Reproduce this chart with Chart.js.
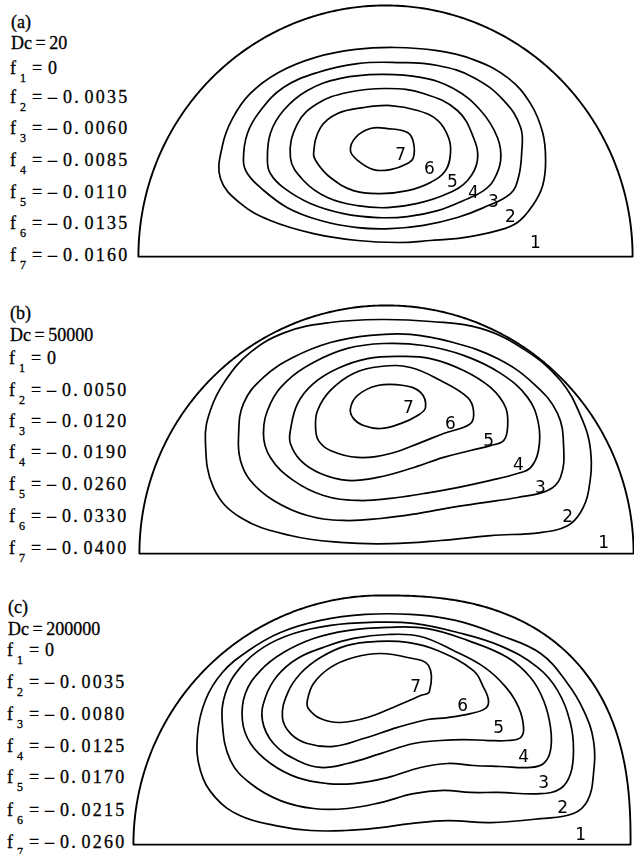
<!DOCTYPE html>
<html><head><meta charset="utf-8">
<script src="https://cdn.jsdelivr.net/npm/chart.js@4.4.1/dist/chart.umd.min.js"></script>
<style>
html,body{margin:0;padding:0;background:#fff;width:634px;height:854px;overflow:hidden;position:relative;}
canvas{position:absolute;}
.t{position:absolute;font-family:"Liberation Serif","Times New Roman",serif;font-size:18px;color:#000;white-space:pre;line-height:18px;-webkit-text-stroke:0.3px #000;}
.s{font-size:12px;line-height:12px;}
.v{letter-spacing:2.2px;word-spacing:-3px;}
.d{word-spacing:-1px;}
</style></head><body>
<script>
// ---------- text data ----------
const panelTags = ['(a)', '(b)', '(c)'];
const deanNumbers = ['20', '50000', '200000'];
const levelsA = ['0', '\u2013 0. 0035', '\u2013 0. 0060', '\u2013 0. 0085', '\u2013 0. 0110', '\u2013 0. 0135', '\u2013 0. 0160'];
const levelsB = ['0', '\u2013 0. 0050', '\u2013 0. 0120', '\u2013 0. 0190', '\u2013 0. 0260', '\u2013 0. 0330', '\u2013 0. 0400'];
const levelsC = ['0', '\u2013 0. 0035', '\u2013 0. 0080', '\u2013 0. 0125', '\u2013 0. 0170', '\u2013 0. 0215', '\u2013 0. 0260'];
const contourNames = ['1', '2', '3', '4', '5', '6', '7'];

// ---------- contour data (x = horizontal / radius, y = height / radius) ----------
// Panel (a) Dc = 20
const a2 = [[-0.668,0.316],[-0.660,0.449],[-0.619,0.559],[-0.547,0.660],[-0.433,0.745],[-0.283,0.806],[-0.121,0.838],[0.040,0.846],[0.202,0.834],[0.364,0.794],[0.498,0.721],[0.587,0.619],[0.636,0.502],[0.648,0.389],[0.636,0.287],[0.595,0.206],[0.534,0.138],[0.453,0.105],[0.316,0.077],[0.182,0.065],[0.049,0.057],[-0.113,0.065],[-0.291,0.093],[-0.466,0.146],[-0.587,0.215]];
const a3 = [[-0.575,0.389],[-0.559,0.498],[-0.506,0.591],[-0.413,0.684],[-0.275,0.745],[-0.113,0.781],[0.049,0.785],[0.211,0.773],[0.356,0.725],[0.478,0.632],[0.547,0.522],[0.551,0.417],[0.538,0.320],[0.506,0.255],[0.397,0.198],[0.291,0.158],[0.154,0.126],[0.020,0.113],[-0.113,0.117],[-0.263,0.146],[-0.397,0.198],[-0.506,0.279],[-0.559,0.336]];
const a4 = [[-0.478,0.389],[-0.466,0.498],[-0.413,0.591],[-0.316,0.672],[-0.182,0.721],[-0.020,0.737],[0.142,0.725],[0.275,0.680],[0.385,0.591],[0.453,0.482],[0.466,0.389],[0.437,0.308],[0.397,0.267],[0.316,0.227],[0.211,0.186],[0.089,0.162],[-0.032,0.158],[-0.170,0.174],[-0.304,0.215],[-0.413,0.279],[-0.466,0.336]];
const a5 = [[-0.385,0.401],[-0.356,0.538],[-0.275,0.619],[-0.154,0.664],[0.008,0.680],[0.154,0.660],[0.291,0.591],[0.356,0.482],[0.372,0.389],[0.332,0.308],[0.251,0.255],[0.130,0.215],[0.008,0.198],[-0.113,0.206],[-0.235,0.239],[-0.332,0.308]];
const a6 = [[-0.291,0.417],[-0.263,0.522],[-0.194,0.579],[-0.089,0.603],[0.020,0.611],[0.130,0.591],[0.211,0.551],[0.255,0.482],[0.263,0.417],[0.243,0.348],[0.182,0.300],[0.089,0.267],[-0.020,0.255],[-0.130,0.267],[-0.223,0.320],[-0.275,0.377]];
const a7 = [[-0.142,0.429],[-0.121,0.482],[-0.061,0.518],[0.008,0.518],[0.089,0.502],[0.113,0.462],[0.113,0.401],[0.089,0.377],[0.020,0.352],[-0.049,0.352],[-0.113,0.389]];
const aLabelX = [0.607, 0.506, 0.437, 0.356, 0.271, 0.178, 0.061];
const aLabelY = [0.053, 0.158, 0.219, 0.255, 0.300, 0.352, 0.409];

// Panel (b) Dc = 50000
const b2 = [[-0.733,0.457],[-0.713,0.579],[-0.652,0.700],[-0.551,0.814],[-0.409,0.895],[-0.227,0.935],[-0.024,0.947],[0.178,0.939],[0.381,0.911],[0.563,0.822],[0.704,0.700],[0.785,0.559],[0.826,0.417],[0.818,0.255],[0.785,0.166],[0.733,0.113],[0.623,0.085],[0.421,0.073],[0.219,0.053],[0.016,0.040],[-0.186,0.045],[-0.389,0.073],[-0.591,0.146],[-0.700,0.267]];
const b3 = [[-0.599,0.470],[-0.579,0.607],[-0.498,0.713],[-0.377,0.794],[-0.227,0.854],[-0.065,0.883],[0.097,0.887],[0.271,0.854],[0.449,0.789],[0.595,0.688],[0.692,0.567],[0.717,0.429],[0.704,0.308],[0.652,0.255],[0.530,0.227],[0.393,0.206],[0.259,0.186],[0.126,0.162],[-0.024,0.142],[-0.174,0.134],[-0.320,0.154],[-0.457,0.215],[-0.551,0.296],[-0.591,0.377]];
const b4 = [[-0.498,0.486],[-0.470,0.607],[-0.401,0.700],[-0.296,0.773],[-0.158,0.830],[-0.012,0.850],[0.150,0.842],[0.312,0.802],[0.462,0.729],[0.571,0.632],[0.615,0.526],[0.615,0.417],[0.583,0.348],[0.530,0.324],[0.421,0.296],[0.287,0.267],[0.150,0.243],[0.016,0.223],[-0.117,0.215],[-0.255,0.235],[-0.377,0.296],[-0.470,0.389]];
const b5 = [[-0.389,0.498],[-0.360,0.607],[-0.296,0.688],[-0.198,0.749],[-0.077,0.789],[0.057,0.798],[0.178,0.789],[0.312,0.741],[0.421,0.672],[0.482,0.591],[0.490,0.510],[0.474,0.457],[0.421,0.437],[0.340,0.417],[0.231,0.389],[0.097,0.344],[-0.036,0.308],[-0.158,0.296],[-0.267,0.324],[-0.348,0.377],[-0.389,0.445]];
const b6 = [[-0.287,0.510],[-0.279,0.579],[-0.227,0.660],[-0.134,0.729],[-0.024,0.757],[0.097,0.753],[0.219,0.700],[0.328,0.632],[0.352,0.579],[0.340,0.526],[0.231,0.486],[0.138,0.449],[0.016,0.405],[-0.117,0.389],[-0.227,0.417],[-0.275,0.457]];
const b7 = [[-0.146,0.587],[-0.117,0.640],[-0.036,0.680],[0.069,0.680],[0.138,0.652],[0.158,0.591],[0.126,0.559],[0.057,0.526],[-0.024,0.506],[-0.093,0.518],[-0.134,0.547]];
const bLabelX = [0.879, 0.733, 0.623, 0.534, 0.413, 0.259, 0.089];
const bLabelY = [0.040, 0.146, 0.263, 0.356, 0.453, 0.522, 0.587];

// Panel (c) Dc = 200000
const c2 = [[-0.745,0.441],[-0.713,0.583],[-0.644,0.696],[-0.538,0.785],[-0.409,0.858],[-0.247,0.907],[-0.065,0.931],[0.117,0.931],[0.300,0.907],[0.482,0.846],[0.644,0.773],[0.753,0.652],[0.818,0.543],[0.858,0.421],[0.858,0.287],[0.834,0.178],[0.777,0.126],[0.644,0.105],[0.441,0.089],[0.267,0.097],[0.117,0.085],[-0.004,0.069],[-0.146,0.057],[-0.287,0.057],[-0.429,0.077],[-0.571,0.117],[-0.672,0.190],[-0.733,0.300]];
const c3 = [[-0.644,0.490],[-0.632,0.611],[-0.571,0.717],[-0.478,0.798],[-0.356,0.854],[-0.206,0.887],[-0.045,0.899],[0.130,0.895],[0.308,0.858],[0.486,0.802],[0.632,0.717],[0.713,0.623],[0.765,0.490],[0.777,0.381],[0.765,0.287],[0.725,0.227],[0.644,0.206],[0.470,0.211],[0.360,0.211],[0.251,0.219],[0.130,0.206],[-0.004,0.170],[-0.138,0.146],[-0.275,0.146],[-0.409,0.178],[-0.530,0.247],[-0.611,0.340]];
const c4 = [[-0.563,0.502],[-0.551,0.611],[-0.490,0.704],[-0.397,0.777],[-0.275,0.834],[-0.138,0.866],[0.024,0.879],[0.186,0.874],[0.348,0.826],[0.510,0.757],[0.603,0.676],[0.656,0.583],[0.684,0.474],[0.684,0.381],[0.656,0.328],[0.603,0.312],[0.482,0.316],[0.372,0.320],[0.267,0.328],[0.158,0.312],[0.024,0.271],[-0.113,0.247],[-0.219,0.247],[-0.340,0.271],[-0.449,0.328],[-0.530,0.409]];
const c5 = [[-0.482,0.502],[-0.470,0.595],[-0.421,0.684],[-0.340,0.753],[-0.235,0.798],[-0.113,0.834],[0.024,0.850],[0.158,0.842],[0.291,0.785],[0.417,0.717],[0.504,0.636],[0.555,0.555],[0.575,0.474],[0.563,0.433],[0.510,0.421],[0.433,0.421],[0.332,0.425],[0.239,0.421],[0.130,0.409],[-0.004,0.368],[-0.138,0.328],[-0.247,0.312],[-0.340,0.340],[-0.437,0.409]];
const c6 = [[-0.401,0.514],[-0.381,0.611],[-0.328,0.692],[-0.247,0.757],[-0.138,0.806],[-0.016,0.822],[0.105,0.818],[0.227,0.785],[0.372,0.704],[0.413,0.636],[0.433,0.583],[0.421,0.551],[0.360,0.530],[0.267,0.514],[0.186,0.506],[0.065,0.474],[-0.073,0.429],[-0.194,0.397],[-0.300,0.409],[-0.368,0.449]];
const c7 = [[-0.300,0.583],[-0.275,0.652],[-0.206,0.717],[-0.113,0.757],[-0.004,0.773],[0.105,0.757],[0.190,0.725],[0.194,0.619],[0.158,0.603],[0.065,0.563],[-0.057,0.514],[-0.166,0.494],[-0.247,0.510],[-0.296,0.551]];
const cLabelX = [0.806, 0.733, 0.656, 0.575, 0.474, 0.328, 0.138];
const cLabelY = [0.036, 0.146, 0.247, 0.352, 0.470, 0.559, 0.636];

// ---------- layout (page pixels) and frame shape ----------
const layout = [
  {cx: 385, base: 256, R: 247, textX: 10, textBase: [27, 48, 73, 102, 133, 165, 197, 228, 260]},
  {cx: 386, base: 553, R: 247, textX: 9, textBase: [318, 340, 363, 395, 426, 457, 489, 521, 553]},
  {cx: 381, base: 844, R: 247, textX: 7, textBase: [612, 634, 655, 687, 719, 751, 782, 815, 847]}
];
const frames = [
  {left: -1.0, right: 1.0, top: 1.016, nLeft: 2, nRight: 2},
  {left: -1.0, right: 1.0, top: 1.004, nLeft: 2, nRight: 2},
  {left: -1.004, right: 1.008, top: 1.008, nLeft: 2, nRight: 2.5}
];
const panels = [
  {contours: [a2, a3, a4, a5, a6, a7], levels: levelsA, lx: aLabelX, ly: aLabelY},
  {contours: [b2, b3, b4, b5, b6, b7], levels: levelsB, lx: bLabelX, ly: bLabelY},
  {contours: [c2, c3, c4, c5, c6, c7], levels: levelsC, lx: cLabelX, ly: cLabelY}
];

const XPAD = 0.03, YPAD = 0.03;

function addPiece(x, baseline, html, cls) {
  const d = document.createElement('div');
  d.className = 't ' + (cls || '');
  d.innerHTML = html;
  d.style.left = x + 'px';
  d.style.top = (baseline - (cls === 's' ? 9 : 14)) + 'px';
  document.body.appendChild(d);
}

const boundaryPlugin = {
  id: 'boundary',
  beforeDatasetsDraw(chart, args, opts) {
    const xs = chart.scales.x, ys = chart.scales.y, ctx = chart.ctx, f = opts.frame;
    const cxp = xs.getPixelForValue(0), byp = ys.getPixelForValue(0);
    const rl = cxp - xs.getPixelForValue(f.left), rr = xs.getPixelForValue(f.right) - cxp;
    const rt = byp - ys.getPixelForValue(f.top);
    ctx.save();
    ctx.strokeStyle = '#000';
    ctx.lineWidth = 1.9;
    ctx.lineJoin = 'round';
    ctx.beginPath();
    ctx.moveTo(cxp - rl, byp);
    for (let i = 1; i <= 360; i++) {
      const t = Math.PI - Math.PI * i / 360;
      const c = Math.cos(t), s = Math.sin(t);
      const n = c < 0 ? f.nLeft : f.nRight;
      const ex = Math.sign(c) * Math.pow(Math.abs(c), 2 / n);
      const ey = Math.pow(Math.abs(s), 2 / n);
      ctx.lineTo(cxp + ex * (c < 0 ? rl : rr), byp - ey * rt);
    }
    ctx.closePath();
    ctx.stroke();
    ctx.restore();
  },
  afterDatasetsDraw(chart, args, opts) {
    const xs = chart.scales.x, ys = chart.scales.y, ctx = chart.ctx;
    ctx.save();
    ctx.fillStyle = '#000';
    ctx.font = '17px "DejaVu Sans", sans-serif';
    ctx.textAlign = 'center';
    ctx.textBaseline = 'middle';
    opts.names.forEach((n, i) => {
      ctx.fillText(n, xs.getPixelForValue(opts.lx[i]), ys.getPixelForValue(opts.ly[i]));
    });
    ctx.restore();
  }
};

panels.forEach((p, k) => {
  const L = layout[k];
  addPiece(L.textX + 1, L.textBase[0], panelTags[k]);
  addPiece(L.textX + 1, L.textBase[1], 'Dc = ' + deanNumbers[k], 'd');
  p.levels.forEach((lv, i) => {
    const b = L.textBase[i + 2];
    addPiece(L.textX, b, 'f');
    addPiece(L.textX + 10, b + 8, String(i + 1), 's');
    addPiece(L.textX + 22, b, '= ' + lv, 'v');
  });
  const w = Math.round(2 * L.R * (1 + XPAD));
  const h = Math.round(L.R * (1 + 2 * YPAD));
  const cv = document.createElement('canvas');
  cv.width = w; cv.height = h;
  cv.style.width = w + 'px'; cv.style.height = h + 'px';
  cv.style.left = (L.cx - w / 2) + 'px';
  cv.style.top = (L.base - L.R * (1 + YPAD)) + 'px';
  document.body.appendChild(cv);
  const datasets = p.contours.map(pts => {
    const n = pts.length;
    const ring = [pts[n - 1]].concat(pts, [pts[0], pts[1]]);
    const last = ring.length - 1;
    return {
      data: ring.map(q => ({x: q[0], y: q[1]})),
      showLine: true, pointRadius: 0, borderColor: '#000', borderWidth: 1.7,
      tension: 0.4, fill: false,
      segment: {
        borderColor: c => (c.p0DataIndex === 0 || c.p1DataIndex === last) ? 'rgba(0,0,0,0)' : '#000'
      }
    };
  });
  new Chart(cv, {
    type: 'scatter',
    data: {datasets},
    options: {
      responsive: false, animation: false, devicePixelRatio: 1,
      layout: {padding: 0},
      plugins: {legend: {display: false}, tooltip: {enabled: false},
        boundary: {names: contourNames, lx: p.lx, ly: p.ly, frame: frames[k]}},
      scales: {
        x: {type: 'linear', display: false, min: -(1 + XPAD), max: 1 + XPAD},
        y: {type: 'linear', display: false, min: -YPAD, max: 1 + YPAD}
      }
    },
    plugins: [boundaryPlugin]
  });
});
</script>
</body></html>
